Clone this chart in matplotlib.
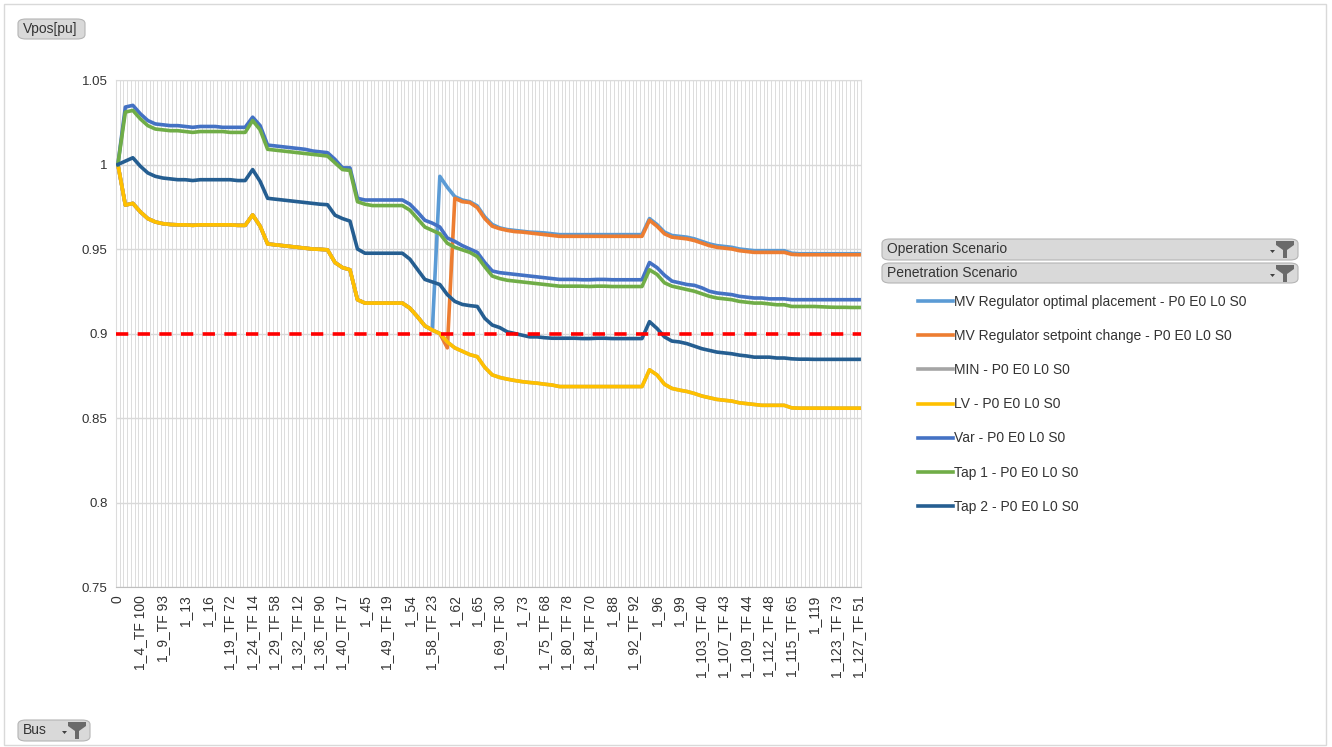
import matplotlib
matplotlib.use('Agg')
import matplotlib.pyplot as plt
from matplotlib.patches import FancyBboxPatch, Polygon, Rectangle

plt.rcParams['font.family'] = ['Liberation Sans', 'DejaVu Sans']

W, H = 1332, 747

# bus labels shown on the category axis (every 6th bus)
bus_labels = [
    '0', '1_4_TF 100', '1_9_TF 93', '1_13', '1_16', '1_19_TF 72', '1_24_TF 14',
    '1_29_TF 58', '1_32_TF 12', '1_36_TF 90', '1_40_TF 17', '1_45', '1_49_TF 19',
    '1_54', '1_58_TF 23', '1_62', '1_65', '1_69_TF 30', '1_73', '1_75_TF 68',
    '1_80_TF 78', '1_84_TF 70', '1_88', '1_92_TF 92', '1_96', '1_99',
    '1_103_TF 40', '1_107_TF 43', '1_109_TF 44', '1_112_TF 48', '1_115_TF 65',
    '1_119', '1_123_TF 73', '1_127_TF 51',
]
n_bus = 199
label_step = 6
sample_step = 2

y_ticks = [0.75, 0.8, 0.85, 0.9, 0.95, 1.0, 1.05]
y_tick_labels = ['0.75', '0.8', '0.85', '0.9', '0.95', '1', '1.05']
limit_pu = 0.9

series_names = [
    'MV Regulator optimal placement - P0 E0 L0 S0',
    'MV Regulator setpoint change - P0 E0 L0 S0',
    'MIN - P0 E0 L0 S0',
    'LV - P0 E0 L0 S0',
    'Var - P0 E0 L0 S0',
    'Tap 1 - P0 E0 L0 S0',
    'Tap 2 - P0 E0 L0 S0',
]
series_colors = ['#5B9BD5', '#ED7D31', '#A5A5A5', '#FFC000', '#4472C4', '#70AD47', '#255E91']

mv_opt = [
    1.000, 0.976, 0.977, 0.972, 0.968, 0.966, 0.965, 0.9645, 0.9643, 0.9643,
    0.964, 0.9643, 0.9643, 0.9643, 0.9643, 0.9643, 0.964, 0.964, 0.9702, 0.9635,
    0.953, 0.9525, 0.952, 0.9515, 0.951, 0.9505, 0.950, 0.9498, 0.9495, 0.942,
    0.939, 0.9377, 0.920, 0.918, 0.918, 0.918, 0.918, 0.918, 0.918, 0.915,
    0.910, 0.9045, 0.902, 0.993, 0.9865, 0.981, 0.979, 0.978, 0.9755, 0.969,
    0.9645, 0.9625, 0.9615, 0.961, 0.9605, 0.960, 0.9598, 0.9595, 0.959, 0.9585,
    0.9585, 0.9585, 0.9585, 0.9585, 0.9585, 0.9585, 0.9585, 0.9585, 0.9585, 0.9585,
    0.9585, 0.968, 0.9645, 0.960, 0.958, 0.9575, 0.957, 0.956, 0.9545, 0.953,
    0.952, 0.9515, 0.951, 0.950, 0.9495, 0.949, 0.949, 0.949, 0.949, 0.949,
    0.9475, 0.9472, 0.9472, 0.9472, 0.9472, 0.9472, 0.9472, 0.9472, 0.9472, 0.9472,
]
mv_setpoint = [
    1.000, 0.976, 0.977, 0.972, 0.968, 0.966, 0.965, 0.9645, 0.9643, 0.9643,
    0.964, 0.9643, 0.9643, 0.9643, 0.9643, 0.9643, 0.964, 0.964, 0.9702, 0.9635,
    0.953, 0.9525, 0.952, 0.9515, 0.951, 0.9505, 0.950, 0.9498, 0.9495, 0.942,
    0.939, 0.9377, 0.920, 0.918, 0.918, 0.918, 0.918, 0.918, 0.918, 0.915,
    0.910, 0.9045, 0.902, 0.900, 0.8915, 0.980, 0.978, 0.9775, 0.9745, 0.968,
    0.9635, 0.962, 0.961, 0.9603, 0.960, 0.9595, 0.959, 0.9585, 0.958, 0.9575,
    0.9575, 0.9575, 0.9575, 0.9575, 0.9575, 0.9575, 0.9575, 0.9575, 0.9575, 0.9575,
    0.9575, 0.967, 0.9635, 0.959, 0.957, 0.9565, 0.956, 0.955, 0.9535, 0.952,
    0.951, 0.9505, 0.950, 0.949, 0.9485, 0.948, 0.948, 0.948, 0.948, 0.948,
    0.9468, 0.9466, 0.9466, 0.9466, 0.9466, 0.9466, 0.9466, 0.9466, 0.9466, 0.9466,
]
min_v = [
    1.000, 0.976, 0.977, 0.972, 0.968, 0.966, 0.965, 0.9645, 0.9643, 0.9643,
    0.964, 0.9643, 0.9643, 0.9643, 0.9643, 0.9643, 0.964, 0.964, 0.9702, 0.9635,
    0.953, 0.9525, 0.952, 0.9515, 0.951, 0.9505, 0.950, 0.9498, 0.9495, 0.942,
    0.939, 0.9377, 0.920, 0.918, 0.918, 0.918, 0.918, 0.918, 0.918, 0.915,
    0.910, 0.9045, 0.902, 0.900, 0.895, 0.8915, 0.8895, 0.8875, 0.8863, 0.880,
    0.8755, 0.874, 0.873, 0.8722, 0.8715, 0.871, 0.8706, 0.870, 0.8695, 0.8686,
    0.8686, 0.8686, 0.8686, 0.8686, 0.8686, 0.8686, 0.8686, 0.8686, 0.8686, 0.8686,
    0.8686, 0.8785, 0.8755, 0.870, 0.8675, 0.8665, 0.8657, 0.8645, 0.863, 0.862,
    0.861, 0.8605, 0.860, 0.859, 0.8585, 0.858, 0.8575, 0.8575, 0.8575, 0.8575,
    0.856, 0.8558, 0.8558, 0.8558, 0.8558, 0.8558, 0.8558, 0.8558, 0.8558, 0.8558,
]
lv = [
    1.000, 0.976, 0.977, 0.972, 0.968, 0.966, 0.965, 0.9645, 0.9643, 0.9643,
    0.964, 0.9643, 0.9643, 0.9643, 0.9643, 0.9643, 0.964, 0.964, 0.9702, 0.9635,
    0.953, 0.9525, 0.952, 0.9515, 0.951, 0.9505, 0.950, 0.9498, 0.9495, 0.942,
    0.939, 0.9377, 0.920, 0.918, 0.918, 0.918, 0.918, 0.918, 0.918, 0.915,
    0.910, 0.9045, 0.902, 0.900, 0.895, 0.8915, 0.8895, 0.8875, 0.8863, 0.880,
    0.8755, 0.874, 0.873, 0.8722, 0.8715, 0.871, 0.8706, 0.870, 0.8695, 0.8686,
    0.8686, 0.8686, 0.8686, 0.8686, 0.8686, 0.8686, 0.8686, 0.8686, 0.8686, 0.8686,
    0.8686, 0.8785, 0.8755, 0.870, 0.8675, 0.8665, 0.8657, 0.8645, 0.863, 0.862,
    0.861, 0.8605, 0.860, 0.859, 0.8585, 0.858, 0.8575, 0.8575, 0.8575, 0.8575,
    0.856, 0.8558, 0.8558, 0.8558, 0.8558, 0.8558, 0.8558, 0.8558, 0.8558, 0.8558,
]
var = [
    1.000, 1.034, 1.035, 1.030, 1.026, 1.024, 1.0235, 1.023, 1.023, 1.0225,
    1.022, 1.0225, 1.0225, 1.0225, 1.022, 1.022, 1.022, 1.022, 1.028, 1.023,
    1.0115, 1.011, 1.0105, 1.010, 1.0095, 1.009, 1.008, 1.0075, 1.007, 1.003,
    0.998, 0.998, 0.980, 0.979, 0.979, 0.979, 0.979, 0.979, 0.979, 0.9765,
    0.972, 0.967, 0.9653, 0.963, 0.9565, 0.9545, 0.952, 0.950, 0.948, 0.942,
    0.937, 0.936, 0.9355, 0.935, 0.9345, 0.934, 0.9335, 0.933, 0.9325, 0.932,
    0.932, 0.932, 0.9318, 0.9318, 0.932, 0.932, 0.9318, 0.9318, 0.9318, 0.9318,
    0.9318, 0.942, 0.939, 0.9345, 0.931, 0.930, 0.929, 0.9285, 0.927, 0.925,
    0.924, 0.9235, 0.923, 0.922, 0.9215, 0.921, 0.921, 0.9205, 0.9205, 0.9205,
    0.920, 0.920, 0.920, 0.920, 0.920, 0.920, 0.920, 0.920, 0.920, 0.920,
]
tap1 = [
    1.000, 1.031, 1.032, 1.027, 1.023, 1.021, 1.0205, 1.020, 1.020, 1.0195,
    1.019, 1.0195, 1.0195, 1.0195, 1.0195, 1.019, 1.019, 1.019, 1.026, 1.0205,
    1.009, 1.0085, 1.008, 1.0075, 1.007, 1.0065, 1.006, 1.0055, 1.005, 1.001,
    0.997, 0.9965, 0.978, 0.9765, 0.9757, 0.9757, 0.9757, 0.9757, 0.9757, 0.973,
    0.968, 0.963, 0.961, 0.959, 0.9534, 0.951, 0.9495, 0.948, 0.9455, 0.9395,
    0.934, 0.9325, 0.9315, 0.931, 0.9305, 0.930, 0.9295, 0.929, 0.9285, 0.928,
    0.928, 0.928, 0.928, 0.9278, 0.928, 0.928, 0.9278, 0.9278, 0.9278, 0.9278,
    0.9278, 0.9377, 0.935, 0.930, 0.928, 0.927, 0.926, 0.925, 0.9235, 0.922,
    0.921, 0.9205, 0.920, 0.919, 0.9185, 0.918, 0.918, 0.9175, 0.917, 0.917,
    0.916, 0.916, 0.916, 0.916, 0.9158, 0.9156, 0.9155, 0.9155, 0.9154, 0.9154,
]
tap2 = [
    1.000, 1.002, 1.004, 0.999, 0.995, 0.993, 0.992, 0.9915, 0.991, 0.991,
    0.9905, 0.991, 0.991, 0.991, 0.991, 0.991, 0.9905, 0.9905, 0.997, 0.990,
    0.980, 0.9795, 0.979, 0.9785, 0.978, 0.9775, 0.977, 0.9765, 0.9762, 0.970,
    0.968, 0.9665, 0.950, 0.9475, 0.9475, 0.9475, 0.9475, 0.9475, 0.9475, 0.944,
    0.938, 0.932, 0.9305, 0.929, 0.923, 0.919, 0.9172, 0.9165, 0.916, 0.909,
    0.905, 0.9035, 0.901, 0.900, 0.899, 0.898, 0.898, 0.8975, 0.8972, 0.8972,
    0.8972, 0.8972, 0.897, 0.897, 0.8972, 0.8972, 0.897, 0.897, 0.897, 0.897,
    0.897, 0.907, 0.903, 0.898, 0.8955, 0.895, 0.894, 0.8925, 0.891, 0.890,
    0.889, 0.8885, 0.888, 0.8872, 0.8867, 0.886, 0.886, 0.886, 0.8855, 0.8855,
    0.885, 0.8848, 0.8848, 0.8847, 0.8847, 0.8847, 0.8847, 0.8847, 0.8847, 0.8847,
]
series_values = [mv_opt, mv_setpoint, min_v, lv, var, tap1, tap2]

TEXT_COLOR = '#333333'


def fx(px):
    return px / W


def fy(py):
    return 1 - py / H


def draw_button(fig, x0, y0, x1, y1, text, with_filter=False):
    """Grey pivot-chart field button with optional filter icon."""
    box = FancyBboxPatch((fx(x0), fy(y1)), fx(x1) - fx(x0), fy(y0) - fy(y1),
                         boxstyle='round,pad=0,rounding_size=0.006',
                         transform=fig.transFigure, facecolor='#d9d9d9',
                         edgecolor='#b5b5b5', linewidth=0.8)
    fig.patches.append(box)
    fig.text(fx(x0 + 5), fy((y0 + y1) / 2), text, fontsize=10, color=TEXT_COLOR,
             va='center', ha='left')
    if with_filter:
        ix, iy = x1 - 22, y0 + 2
        funnel = [(ix, iy), (ix + 18, iy), (ix + 18, iy + 4), (ix + 11, iy + 9),
                  (ix + 11, iy + 17), (ix + 7, iy + 17), (ix + 7, iy + 9), (ix, iy + 4)]
        fig.patches.append(Polygon([(fx(a), fy(b)) for a, b in funnel], closed=True,
                                   transform=fig.transFigure, facecolor='#6a6a6a',
                                   edgecolor='none'))
        arrow = [(ix - 6, iy + 9), (ix - 1, iy + 9), (ix - 3.5, iy + 12)]
        fig.patches.append(Polygon([(fx(a), fy(b)) for a, b in arrow], closed=True,
                                   transform=fig.transFigure, facecolor='#404040',
                                   edgecolor='none'))


fig = plt.figure(figsize=(W / 100, H / 100), dpi=100)
fig.patches.append(Rectangle((fx(4), fy(745)), fx(1326) - fx(4), fy(4) - fy(745),
                             transform=fig.transFigure, facecolor='none',
                             edgecolor='#d9d9d9', linewidth=1))

ax = fig.add_axes([fx(116), fy(587), fx(861) - fx(116), fy(80) - fy(587)])

x_sampled = list(range(0, n_bus, sample_step))
lines = []
for name, color, vals in zip(series_names, series_colors, series_values):
    ln, = ax.plot(x_sampled, vals, color=color, linewidth=2.6, label=name,
                  solid_joinstyle='round', zorder=3)
    lines.append(ln)

ax.axhline(limit_pu, color='#ff0000', linewidth=2.6, dashes=(3.4, 2.6), zorder=4)

ax.set_xlim(-0.5, n_bus - 0.5)
ax.set_ylim(y_ticks[0], y_ticks[-1])
ax.set_yticks(y_ticks)
ax.set_yticklabels(y_tick_labels, fontsize=9.5, color=TEXT_COLOR)
ax.set_xticks(list(range(0, n_bus, label_step)))
ax.set_xticklabels(bus_labels, rotation=90, fontsize=10, color=TEXT_COLOR)
ax.set_xticks([i - 0.5 for i in range(1, n_bus)], minor=True)
ax.tick_params(axis='both', which='both', length=0)
ax.tick_params(axis='x', pad=6)
ax.tick_params(axis='y', pad=6)
ax.grid(True, which='minor', axis='x', color='#dcdcdc', linewidth=0.7)
ax.grid(True, which='major', axis='y', color='#d9d9d9', linewidth=1)
ax.set_axisbelow(True)
for side in ['left', 'right', 'top']:
    ax.spines[side].set_color('#dcdcdc')
ax.spines['bottom'].set_color('#bfbfbf')

fig.legend(lines, series_names, loc='upper left',
           bbox_to_anchor=(fx(911), fy(288)), bbox_transform=fig.transFigure,
           frameon=False, borderpad=0, handlelength=2.5, handletextpad=0.1,
           labelspacing=1.45, fontsize=10, labelcolor=TEXT_COLOR)

draw_button(fig, 18, 19, 85, 39, 'Vpos[pu]')
draw_button(fig, 18, 720, 90, 741, 'Bus', with_filter=True)
draw_button(fig, 882, 239, 1298, 260, 'Operation Scenario', with_filter=True)
draw_button(fig, 882, 263, 1298, 283, 'Penetration Scenario', with_filter=True)

fig.savefig('out.png', dpi=100)
